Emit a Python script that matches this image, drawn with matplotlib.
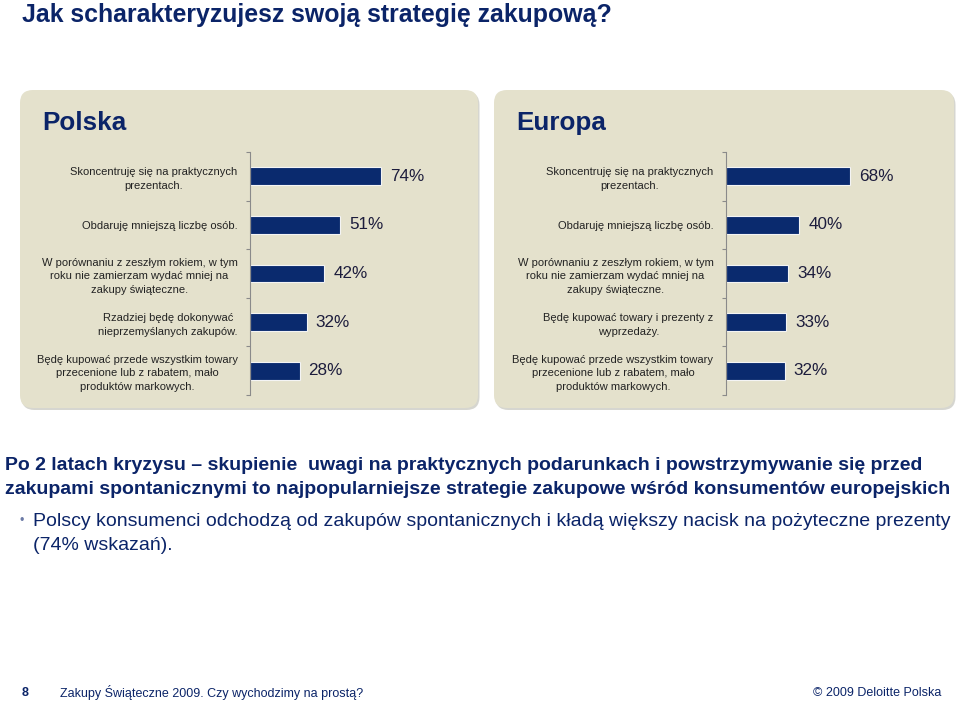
import matplotlib; matplotlib.use("Agg")
import matplotlib.pyplot as plt
from matplotlib.patches import FancyBboxPatch

TITLE = "Jak scharakteryzujesz swoją strategię zakupową?"
PL_LABELS = [
    "Skoncentruję się na praktycznych\nprezentach.",
    "Obdaruję mniejszą liczbę osób.",
    "W porównaniu z zeszłym rokiem, w tym\nroku nie zamierzam wydać mniej na\nzakupy świąteczne.",
    "Rzadziej będę dokonywać\nnieprzemyślanych zakupów.",
    "Będę kupować przede wszystkim towary\nprzecenione lub z rabatem, mało\nproduktów markowych.",
]
PL_VALUES = [74, 51, 42, 32, 28]
EU_LABELS = [
    "Skoncentruję się na praktycznych\nprezentach.",
    "Obdaruję mniejszą liczbę osób.",
    "W porównaniu z zeszłym rokiem, w tym\nroku nie zamierzam wydać mniej na\nzakupy świąteczne.",
    "Będę kupować towary i prezenty z\nwyprzedaży.",
    "Będę kupować przede wszystkim towary\nprzecenione lub z rabatem, mało\nproduktów markowych.",
]
EU_VALUES = [68, 40, 34, 33, 32]

HEADLINE = ["Po 2 latach kryzysu – skupienie  uwagi na praktycznych podarunkach i powstrzymywanie się przed",
            "zakupami spontanicznymi to najpopularniejsze strategie zakupowe wśród konsumentów europejskich"]
BULLET = ["Polscy konsumenci odchodzą od zakupów spontanicznych i kładą większy nacisk na pożyteczne prezenty",
          "(74% wskazań)."]
FOOTER_LEFT = "Zakupy Świąteczne 2009. Czy wychodzimy na prostą?"
FOOTER_RIGHT = "© 2009 Deloitte Polska"

NAVY = "#0b2468"
BAR = "#0a2a6e"
PANEL = "#e4e1cc"
plt.rcParams["font.family"] = ["Liberation Sans", "DejaVu Sans"]

W, H = 960, 705
fig = plt.figure(figsize=(W / 100, H / 100), dpi=100)
bg = fig.add_axes([0, 0, 1, 1])
bg.set_xlim(0, W); bg.set_ylim(H, 0); bg.axis("off")


def px_axes(x0, y0, x1, y1):
    return fig.add_axes([x0 / W, 1 - y1 / H, (x1 - x0) / W, (y1 - y0) / H])


def panel(x0, y0, x1, y1, name, labels, values, ax_x, scale):
    bg.add_patch(FancyBboxPatch((x0 + 1.5, y0 + 2), x1 - x0, y1 - y0,
                                boxstyle="round,pad=0,rounding_size=13",
                                fc="#d6d6d0", ec="none", zorder=0))
    bg.add_patch(FancyBboxPatch((x0, y0), x1 - x0, y1 - y0,
                                boxstyle="round,pad=0,rounding_size=13",
                                fc=PANEL, ec="none", zorder=1))
    bg.text(x0 + 22, y0 + 33, name, fontsize=18.7, fontweight="bold",
            color=NAVY, va="center", ha="left", zorder=2)

    ax = px_axes(ax_x, 152, ax_x + 100 * scale, 395)
    ax.set_facecolor("none")
    n = len(values)
    ax.barh(range(n), values, height=0.37, color=BAR, edgecolor="#f4f4f4", linewidth=0.8)
    ax.set_xlim(0, 100); ax.set_ylim(n - 0.5, -0.5)
    for s in ("top", "right", "bottom"):
        ax.spines[s].set_visible(False)
    ax.spines["left"].set_color("#8a8a8a"); ax.spines["left"].set_linewidth(0.8)
    ax.set_xticks([])
    ax.set_yticks(range(n))
    ax.set_yticklabels(labels, fontsize=8, color="#222222", multialignment="center",
                       linespacing=1.45)
    ax.tick_params(axis="y", which="major", length=0, pad=9)
    ax.set_yticks([i - 0.5 for i in range(n + 1)], minor=True)
    ax.tick_params(axis="y", which="minor", length=3, color="#8a8a8a", width=0.8)
    for i, v in enumerate(values):
        ax.annotate(f"{v}%", xy=(v, i), xytext=(6.5, 0), textcoords="offset points",
                    va="center", ha="left", fontsize=12.3, color="#1c1c3c")


bg.text(22, 15, TITLE, fontsize=17.9, fontweight="bold", color=NAVY, va="center", ha="left")

panel(20, 90, 478, 408, "Polska", PL_LABELS, PL_VALUES, 250, 1.77)
panel(494, 90, 954, 408, "Europa", EU_LABELS, EU_VALUES, 726, 1.83)

bg.text(5, 465, HEADLINE[0], fontsize=14, fontweight="bold", color=NAVY, va="center", ha="left")
bg.text(5, 489, HEADLINE[1], fontsize=14, fontweight="bold", color=NAVY, va="center", ha="left")
bg.text(20, 521, "•", fontsize=9, color="#6b7aa6", va="center", ha="left")
bg.text(33, 521, BULLET[0], fontsize=14, color=NAVY, va="center", ha="left")
bg.text(33, 546, BULLET[1], fontsize=14, color=NAVY, va="center", ha="left")

bg.text(22, 693, "8", fontsize=9, fontweight="bold", color=NAVY, va="center", ha="left")
bg.text(60, 693, FOOTER_LEFT, fontsize=9, color=NAVY, va="center", ha="left")
bg.text(941, 693, FOOTER_RIGHT, fontsize=9, color=NAVY, va="center", ha="right")

fig.savefig("out.png", dpi=100)
